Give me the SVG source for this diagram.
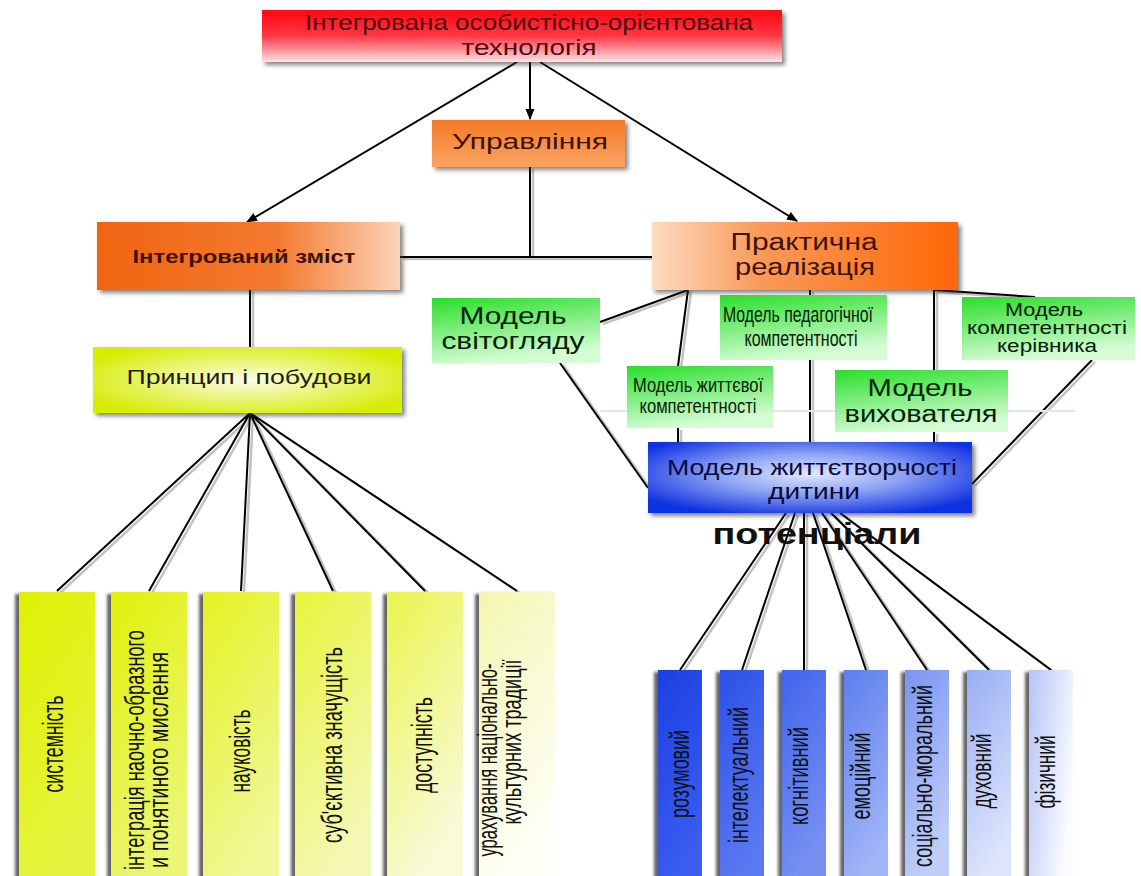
<svg xmlns="http://www.w3.org/2000/svg" xmlns:xlink="http://www.w3.org/1999/xlink" width="1141" height="876" viewBox="0 0 1141 876">
<style>
text{font-family:"Liberation Sans",Arial,sans-serif;}
.ln{fill:none;stroke:#000;stroke-width:2;}
.lnsh{fill:none;stroke:#9a9a9a;stroke-width:2.5;opacity:0.6;}
.ar{fill:none;stroke:#000;stroke-width:2;marker-end:url(#arr);}
.t-top{font-size:22px;fill:#4a0c0c;}
.t-or{fill:#3e1208;}
.t-gr{fill:#062006;}
.t-bl{fill:#0a0a3c;}
.vt{fill:#111;}
.faint{stroke:#dcecdc;stroke-width:2;fill:none;}
</style>
<defs>
<filter id="ds" x="-10%" y="-20%" width="125%" height="150%"><feDropShadow dx="3" dy="3" stdDeviation="2" flood-color="#333" flood-opacity="0.6"/></filter>
<filter id="dsl" x="-20%" y="-5%" width="140%" height="110%"><feDropShadow dx="-4" dy="2" stdDeviation="1.5" flood-color="#333" flood-opacity="0.75"/></filter>
<marker id="arr" markerWidth="12" markerHeight="12" refX="10" refY="5" orient="auto" markerUnits="userSpaceOnUse"><path d="M0,0.5 L11,5 L0,9.5 z" fill="#000"/></marker>
<linearGradient id="gRed" x1="0" y1="0" x2="0" y2="1"><stop offset="0" stop-color="#ff0612"/><stop offset="0.5" stop-color="#ff3846"/><stop offset="1" stop-color="#ffe2e6"/></linearGradient>
<linearGradient id="gUpr" x1="0" y1="0" x2="0" y2="1"><stop offset="0" stop-color="#f57a24"/><stop offset="1" stop-color="#f9a464"/></linearGradient>
<linearGradient id="gInt" x1="0" y1="0" x2="1" y2="0"><stop offset="0" stop-color="#f06410"/><stop offset="0.6" stop-color="#f47a30"/><stop offset="1" stop-color="#fcd4b8"/></linearGradient>
<linearGradient id="gPr" x1="0" y1="0" x2="1" y2="0"><stop offset="0" stop-color="#fcdcc2"/><stop offset="0.35" stop-color="#f99a5a"/><stop offset="1" stop-color="#ff6606"/></linearGradient>
<linearGradient id="gGr" x1="0" y1="0" x2="0.3" y2="1"><stop offset="0" stop-color="#2ade2a"/><stop offset="1" stop-color="#d6fcd6"/></linearGradient>
<radialGradient id="gPrin" cx="0.5" cy="0.5" r="0.6"><stop offset="0" stop-color="#fcfde8"/><stop offset="1" stop-color="#d6ec00"/></radialGradient>
<radialGradient id="gBlue" cx="0.5" cy="0.45" r="0.62"><stop offset="0" stop-color="#e2e8ff"/><stop offset="0.45" stop-color="#8ea4f4"/><stop offset="1" stop-color="#0e30e2"/></radialGradient>
<linearGradient id="y1" x1="0" y1="0" x2="0.4" y2="1"><stop offset="0" stop-color="#def000"/><stop offset="1" stop-color="#e6f440"/></linearGradient>
<linearGradient id="y2" x1="0" y1="0" x2="0.4" y2="1"><stop offset="0" stop-color="#e0f108"/><stop offset="1" stop-color="#ecf674"/></linearGradient>
<linearGradient id="y3" x1="0" y1="0" x2="0.4" y2="1"><stop offset="0" stop-color="#e4f220"/><stop offset="1" stop-color="#f0f796"/></linearGradient>
<linearGradient id="y4" x1="0" y1="0" x2="0.4" y2="1"><stop offset="0" stop-color="#e8f43a"/><stop offset="1" stop-color="#f4f8b4"/></linearGradient>
<linearGradient id="y5" x1="0" y1="0" x2="0.4" y2="1"><stop offset="0" stop-color="#ebf44c"/><stop offset="1" stop-color="#f8fad8"/></linearGradient>
<linearGradient id="y6" x1="0" y1="0" x2="0.4" y2="1"><stop offset="0" stop-color="#f3f7b0"/><stop offset="1" stop-color="#fefef6"/></linearGradient>
<linearGradient id="b1" x1="0" y1="0" x2="0.3" y2="1"><stop offset="0" stop-color="#1c40e4"/><stop offset="1" stop-color="#3a5cf0"/></linearGradient>
<linearGradient id="b2" x1="0" y1="0" x2="0.3" y2="1"><stop offset="0" stop-color="#2c50e8"/><stop offset="1" stop-color="#5a78f0"/></linearGradient>
<linearGradient id="b3" x1="0" y1="0" x2="0.3" y2="1"><stop offset="0" stop-color="#4264ec"/><stop offset="1" stop-color="#7690f2"/></linearGradient>
<linearGradient id="b4" x1="0" y1="0" x2="0.3" y2="1"><stop offset="0" stop-color="#5c7eee"/><stop offset="1" stop-color="#a0b4f6"/></linearGradient>
<linearGradient id="b5" x1="0" y1="0" x2="0.3" y2="1"><stop offset="0" stop-color="#7a94f0"/><stop offset="1" stop-color="#c0cef8"/></linearGradient>
<linearGradient id="b6" x1="0" y1="0" x2="0.3" y2="1"><stop offset="0" stop-color="#98aef4"/><stop offset="1" stop-color="#dde5fb"/></linearGradient>
<linearGradient id="b7" x1="0" y1="0" x2="1" y2="0.5"><stop offset="0" stop-color="#b4c4f6"/><stop offset="1" stop-color="#fafbff"/></linearGradient>
<g id="cpaths">
<path d="M530,167 L530,257"/>
<path d="M400,257 L652,257"/>
<path d="M250,290 L250,347"/>
<path d="M250,413 L57,591 M250,413 L149,591 M250,413 L241,591 M250,413 L333,591 M250,413 L425,591 M250,413 L517,591"/>
<path d="M688,290 L600,322"/>
<path d="M688,290 L678,366 M678,428 L678,442"/>
<path d="M810,290 L810,442"/>
<path d="M934,290 L934,370 M934,432 L934,442"/>
<path d="M934,290 L1035,297"/>
<path d="M560,363 L648,488"/>
<path d="M1092,360 L972,484"/>
<path d="M786,513 L680,670 M795,513 L742,670 M804,513 L804,670 M813,513 L866,670 M822,513 L927,670 M831,513 L989,670 M840,513 L1051,670"/>
</g>
</defs>
<rect width="1141" height="876" fill="#fff"/>

<g id="connectors">
<use xlink:href="#cpaths" href="#cpaths" class="lnsh" transform="translate(3,2)"/>
<use xlink:href="#cpaths" href="#cpaths" class="ln"/>
<path class="ar" d="M530,62 L530,119"/>
<path class="ar" d="M517,62 L247,222"/>
<path class="ar" d="M540,62 L797,221"/>
<path class="faint" d="M600,411 L1075,411"/>
</g>

<g id="n-top">
<rect x="262" y="10" width="520" height="52" fill="url(#gRed)" filter="url(#ds)"/>
<text class="t-top" x="529" y="30" text-anchor="middle" textLength="448" lengthAdjust="spacingAndGlyphs">Інтегрована особистісно-орієнтована</text>
<text class="t-top" x="529" y="55" text-anchor="middle" textLength="135" lengthAdjust="spacingAndGlyphs">технологія</text>
</g>

<g id="n-upr">
<rect x="432" y="120" width="193" height="47" fill="url(#gUpr)" filter="url(#ds)"/>
<text class="t-or" x="530" y="149" font-size="22" text-anchor="middle" textLength="156" lengthAdjust="spacingAndGlyphs">Управління</text>
</g>

<g id="n-int">
<rect x="97" y="222" width="303" height="68" fill="url(#gInt)" filter="url(#ds)"/>
<text class="t-or" x="244" y="263" font-size="18" font-weight="bold" text-anchor="middle" textLength="223" lengthAdjust="spacingAndGlyphs">Інтегрований зміст</text>
</g>

<g id="n-prak">
<rect x="652" y="222" width="306" height="68" fill="url(#gPr)" filter="url(#ds)"/>
<text class="t-or" x="804" y="250" font-size="23" text-anchor="middle" textLength="147" lengthAdjust="spacingAndGlyphs">Практична</text>
<text class="t-or" x="805" y="275" font-size="23" text-anchor="middle" textLength="140" lengthAdjust="spacingAndGlyphs">реалізація</text>
</g>

<g id="n-prin">
<rect x="93" y="347" width="309" height="66" fill="url(#gPrin)" filter="url(#ds)"/>
<text x="249" y="384" font-size="21" fill="#1e1e10" text-anchor="middle" textLength="245" lengthAdjust="spacingAndGlyphs">Принцип і побудови</text>
</g>

<g id="n-svit">
<rect x="432" y="298" width="168" height="65" fill="url(#gGr)"/>
<text class="t-gr" x="513" y="324" font-size="24" text-anchor="middle" textLength="107" lengthAdjust="spacingAndGlyphs">Модель</text>
<text class="t-gr" x="513" y="349" font-size="24" text-anchor="middle" textLength="143" lengthAdjust="spacingAndGlyphs">світогляду</text>
</g>

<g id="n-ped">
<rect x="720" y="295" width="167" height="65" fill="url(#gGr)"/>
<text class="t-gr" x="798" y="322" font-size="22" text-anchor="middle" textLength="150" lengthAdjust="spacingAndGlyphs">Модель педагогічної</text>
<text class="t-gr" x="801" y="346" font-size="22" text-anchor="middle" textLength="113" lengthAdjust="spacingAndGlyphs">компетентності</text>
</g>

<g id="n-ker">
<rect x="962" y="297" width="173" height="63" fill="url(#gGr)"/>
<text class="t-gr" x="1044" y="316" font-size="18" text-anchor="middle" textLength="78" lengthAdjust="spacingAndGlyphs">Модель</text>
<text class="t-gr" x="1047" y="334" font-size="18" text-anchor="middle" textLength="160" lengthAdjust="spacingAndGlyphs">компетентності</text>
<text class="t-gr" x="1047" y="352" font-size="18" text-anchor="middle" textLength="100" lengthAdjust="spacingAndGlyphs">керівника</text>
</g>

<g id="n-zhyt">
<rect x="627" y="366" width="146" height="62" fill="url(#gGr)"/>
<text class="t-gr" x="698" y="392" font-size="20" text-anchor="middle" textLength="130" lengthAdjust="spacingAndGlyphs">Модель життєвої</text>
<text class="t-gr" x="698" y="413" font-size="20" text-anchor="middle" textLength="117" lengthAdjust="spacingAndGlyphs">компетентності</text>
</g>

<g id="n-vyh">
<rect x="835" y="370" width="173" height="62" fill="url(#gGr)"/>
<text class="t-gr" x="920" y="396" font-size="23" text-anchor="middle" textLength="105" lengthAdjust="spacingAndGlyphs">Модель</text>
<text class="t-gr" x="921" y="422" font-size="23" text-anchor="middle" textLength="153" lengthAdjust="spacingAndGlyphs">вихователя</text>
</g>

<g id="n-dyt">
<rect x="648" y="442" width="324" height="71" fill="url(#gBlue)" filter="url(#ds)"/>
<text class="t-bl" x="812" y="475" font-size="22" text-anchor="middle" textLength="290" lengthAdjust="spacingAndGlyphs">Модель життєтворчості</text>
<text class="t-bl" x="814" y="499" font-size="22" text-anchor="middle" textLength="92" lengthAdjust="spacingAndGlyphs">дитини</text>
</g>

<g id="lbl-pot">
<text x="817" y="544" font-size="30" font-weight="bold" fill="#111" text-anchor="middle" textLength="209" lengthAdjust="spacingAndGlyphs">потенціали</text>
</g>

<g id="p1"><rect x="19" y="592" width="76" height="290" fill="url(#y1)" filter="url(#dsl)"/>
<text class="vt" font-size="30" text-anchor="middle" textLength="97" lengthAdjust="spacingAndGlyphs" transform="translate(63,744) rotate(-90)">системність</text></g>
<g id="p2"><rect x="111" y="592" width="76" height="290" fill="url(#y2)" filter="url(#dsl)"/>
<text class="vt" font-size="27" text-anchor="middle" textLength="240" lengthAdjust="spacingAndGlyphs" transform="translate(144,750) rotate(-90)">інтеграція наочно-образного</text>
<text class="vt" font-size="27" text-anchor="middle" textLength="216" lengthAdjust="spacingAndGlyphs" transform="translate(168,760) rotate(-90)">и понятиного мислення</text></g>
<g id="p3"><rect x="203" y="592" width="76" height="290" fill="url(#y3)" filter="url(#dsl)"/>
<text class="vt" font-size="30" text-anchor="middle" textLength="83" lengthAdjust="spacingAndGlyphs" transform="translate(250,751) rotate(-90)">науковість</text></g>
<g id="p4"><rect x="295" y="592" width="76" height="290" fill="url(#y4)" filter="url(#dsl)"/>
<text class="vt" font-size="30" text-anchor="middle" textLength="196" lengthAdjust="spacingAndGlyphs" transform="translate(342,745) rotate(-90)">суб'єктивна значущість</text></g>
<g id="p5"><rect x="387" y="592" width="76" height="290" fill="url(#y5)" filter="url(#dsl)"/>
<text class="vt" font-size="30" text-anchor="middle" textLength="96" lengthAdjust="spacingAndGlyphs" transform="translate(432,745) rotate(-90)">доступність</text></g>
<g id="p6"><rect x="479" y="592" width="76" height="290" fill="url(#y6)" filter="url(#dsl)"/>
<text class="vt" font-size="27" text-anchor="middle" textLength="193" lengthAdjust="spacingAndGlyphs" transform="translate(497,760) rotate(-90)">урахування національно-</text>
<text class="vt" font-size="27" text-anchor="middle" textLength="165" lengthAdjust="spacingAndGlyphs" transform="translate(521,742) rotate(-90)">культурних традиції</text></g>

<g id="q1"><rect x="658" y="670" width="44" height="212" fill="url(#b1)" filter="url(#dsl)"/>
<text class="vt" font-size="28" text-anchor="middle" textLength="88" lengthAdjust="spacingAndGlyphs" transform="translate(689,774) rotate(-90)">розумовий</text></g>
<g id="q2"><rect x="720" y="670" width="44" height="212" fill="url(#b2)" filter="url(#dsl)"/>
<text class="vt" font-size="28" text-anchor="middle" textLength="136" lengthAdjust="spacingAndGlyphs" transform="translate(748,775) rotate(-90)">інтелектуальний</text></g>
<g id="q3"><rect x="782" y="670" width="44" height="212" fill="url(#b3)" filter="url(#dsl)"/>
<text class="vt" font-size="28" text-anchor="middle" textLength="98" lengthAdjust="spacingAndGlyphs" transform="translate(808,776) rotate(-90)">когнітивний</text></g>
<g id="q4"><rect x="844" y="670" width="44" height="212" fill="url(#b4)" filter="url(#dsl)"/>
<text class="vt" font-size="28" text-anchor="middle" textLength="87" lengthAdjust="spacingAndGlyphs" transform="translate(870,776) rotate(-90)">емоційний</text></g>
<g id="q5"><rect x="905" y="670" width="44" height="212" fill="url(#b5)" filter="url(#dsl)"/>
<text class="vt" font-size="28" text-anchor="middle" textLength="182" lengthAdjust="spacingAndGlyphs" transform="translate(932,776) rotate(-90)">соціально-моральний</text></g>
<g id="q6"><rect x="967" y="670" width="44" height="212" fill="url(#b6)" filter="url(#dsl)"/>
<text class="vt" font-size="28" text-anchor="middle" textLength="75" lengthAdjust="spacingAndGlyphs" transform="translate(991,771) rotate(-90)">духовний</text></g>
<g id="q7"><rect x="1029" y="670" width="44" height="212" fill="url(#b7)" filter="url(#dsl)"/>
<text class="vt" font-size="28" text-anchor="middle" textLength="73" lengthAdjust="spacingAndGlyphs" transform="translate(1055,772) rotate(-90)">фізичний</text></g>
</svg>
